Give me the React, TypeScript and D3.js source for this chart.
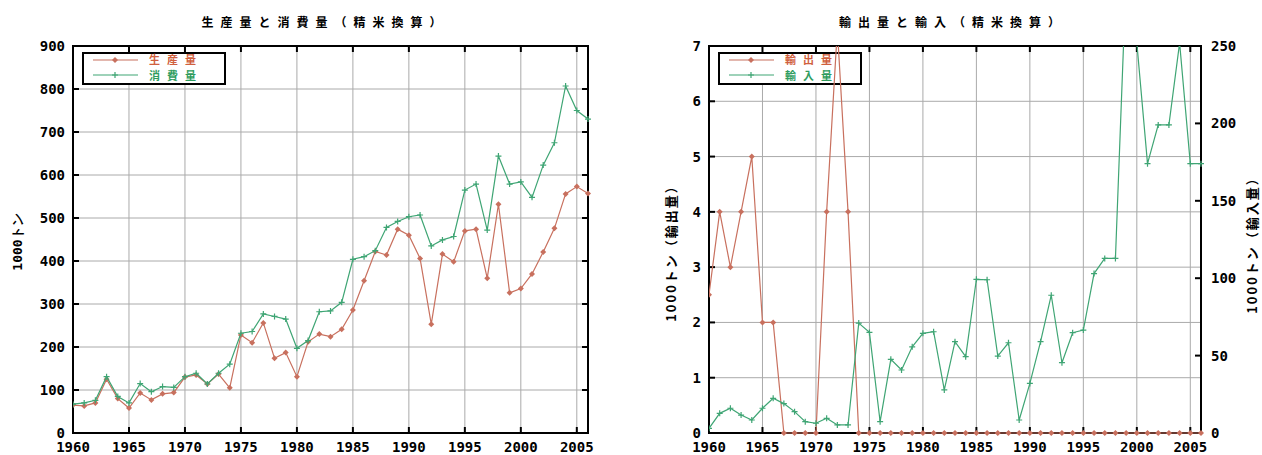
import * as d3 from 'd3'

const years = [
    1960, 1961, 1962, 1963, 1964, 1965, 1966, 1967, 1968, 1969, 1970, 1971, 1972, 1973, 1974, 1975,
    1976, 1977, 1978, 1979, 1980, 1981, 1982, 1983, 1984, 1985, 1986, 1987, 1988, 1989, 1990, 1991,
    1992, 1993, 1994, 1995, 1996, 1997, 1998, 1999, 2000, 2001, 2002, 2003, 2004, 2005, 2006,
]

// 生産量
const production = [
    65, 63, 70, 125, 80, 58, 93, 77, 91, 94, 130, 135, 114, 137, 105, 228, 210, 256, 174, 187, 131, 212,
    230, 224, 241, 286, 354, 422, 414, 474, 460, 406, 253, 416, 398, 470, 474, 360, 532, 326, 336, 370,
    421, 476, 556, 573, 557,
]
// 消費量
const consumption = [
    67, 70, 76, 131, 85, 70, 115, 96, 108, 106, 131, 139, 114, 139, 160, 232, 236, 277, 271, 265, 197, 215,
    282, 284, 304, 404, 410, 424, 478, 492, 503, 507, 435, 449, 457, 565, 579, 472, 644, 579, 584, 548,
    623, 675, 807, 750, 730,
]
// 輸出量 (left axis)
const exports = [
    2.5, 4, 3, 4, 5, 2, 2, 0, 0, 0, 0, 4, 7.3, 4, 0, 0, 0, 0, 0, 0, 0, 0, 0, 0, 0, 0, 0, 0, 0, 0, 0, 0, 0,
    0, 0, 0, 0, 0, 0, 0, 0, 0, 0, 0, 0, 0, 0,
]
// 輸入量 (right axis)
const imports = [
    3, 12.7, 16, 11.6, 8.4, 16, 22.4, 19, 13.8, 7.3, 6.3, 9.5, 5.2, 5.2, 71, 65, 7.3, 47.6, 40.7, 55.7,
    64.4, 65.4, 27.8, 59, 49.3, 99.3, 99, 49.7, 58.3, 8.4, 32, 59, 89, 45.4, 64.8, 66.5, 103, 112.8,
    112.8, 295, 252, 174, 199, 199, 252, 174, 174,
]

const yearTicks = [1960, 1965, 1970, 1975, 1980, 1985, 1990, 1995, 2000, 2005]
const leftTicks = [0, 100, 200, 300, 400, 500, 600, 700, 800, 900]
const exportTicks = [0, 1, 2, 3, 4, 5, 6, 7]
const importTicks = [0, 50, 100, 150, 200, 250]

const RED = '#c8705e'
const GREEN = '#3fa574'
const mono = '"DejaVu Sans Mono", monospace'
const cjk = '"Noto Sans CJK JP", sans-serif'

function Diamond({ x, y, c }) {
    return <path d={`M${x},${y - 3}L${x + 3},${y}L${x},${y + 3}L${x - 3},${y}Z`} fill={c} />
}
function Plus({ x, y, c }) {
    return <path d={`M${x - 3},${y}H${x + 3}M${x},${y - 3}V${y + 3}`} stroke={c} strokeWidth={1.2} />
}

function Frame({ x, y, yTicks, y2, y2Ticks, x0, x1, y0, y1 }) {
    return (
        <g>
            {yearTicks.map((t) => (
                <g key={'x' + t}>
                    <line x1={x(t)} x2={x(t)} y1={y0} y2={y1} stroke="#aaa" strokeWidth={1} />
                    <line x1={x(t)} x2={x(t)} y1={y1} y2={y1 - 6} stroke="#000" strokeWidth={2} />
                    <line x1={x(t)} x2={x(t)} y1={y0} y2={y0 + 6} stroke="#000" strokeWidth={2} />
                    <text x={x(t)} y={y1 + 19} textAnchor="middle" fontFamily={mono} fontWeight="bold" fontSize={14}>
                        {t}
                    </text>
                </g>
            ))}
            {yTicks.map((t) => (
                <g key={'y' + t}>
                    <line x1={x0} x2={x1} y1={y(t)} y2={y(t)} stroke="#aaa" strokeWidth={1} />
                    <line x1={x0} x2={x0 + 6} y1={y(t)} y2={y(t)} stroke="#000" strokeWidth={2} />
                    {!y2 && <line x1={x1} x2={x1 - 6} y1={y(t)} y2={y(t)} stroke="#000" strokeWidth={2} />}
                    <text x={x0 - 8} y={y(t) + 5} textAnchor="end" fontFamily={mono} fontWeight="bold" fontSize={14}>
                        {t}
                    </text>
                </g>
            ))}
            {y2 &&
                y2Ticks.map((t) => (
                    <g key={'r' + t}>
                        <line x1={x1} x2={x1 - 6} y1={y2(t)} y2={y2(t)} stroke="#000" strokeWidth={2} />
                        <text x={x1 + 10} y={y2(t) + 5} fontFamily={mono} fontWeight="bold" fontSize={14}>
                            {t}
                        </text>
                    </g>
                ))}
            <rect x={x0} y={y0} width={x1 - x0} height={y1 - y0} fill="none" stroke="#000" strokeWidth={2} />
        </g>
    )
}

function Legend({ x, y, labels }) {
    return (
        <g>
            <rect x={x} y={y} width={142} height={31} fill="#fff" stroke="#000" strokeWidth={2} />
            <line x1={x + 10} x2={x + 55} y1={y + 7} y2={y + 7} stroke={RED} strokeWidth={1.2} />
            <Diamond x={x + 32} y={y + 7} c={RED} />
            <text x={x + 66} y={y + 11} fill="#d0603e" fontFamily={cjk} fontWeight="bold" fontSize={11} letterSpacing={7}>
                {labels[0]}
            </text>
            <line x1={x + 10} x2={x + 55} y1={y + 22} y2={y + 22} stroke={GREEN} strokeWidth={1.2} />
            <Plus x={x + 32} y={y + 22} c={GREEN} />
            <text x={x + 66} y={y + 27} fill="#2f9c5e" fontFamily={cjk} fontWeight="bold" fontSize={11} letterSpacing={7}>
                {labels[1]}
            </text>
        </g>
    )
}

function Series({ x, y, values, color, marker, clip }) {
    const line = d3
        .line<number>()
        .x((d, i) => x(years[i]))
        .y((d) => y(d))
    return (
        <g clipPath={`url(#${clip})`}>
            <path d={line(values) || ''} fill="none" stroke={color} strokeWidth={1.2} />
            {values.map((v, i) =>
                marker === 'd' ? (
                    <Diamond key={i} x={x(years[i])} y={y(v)} c={color} />
                ) : (
                    <Plus key={i} x={x(years[i])} y={y(v)} c={color} />
                )
            )}
        </g>
    )
}

function App() {
    // left panel
    const lx0 = 73, lx1 = 588, top = 46, bottom = 433
    const xL = d3.scaleLinear().domain([1960, 2006]).range([lx0, lx1])
    const yL = d3.scaleLinear().domain([0, 900]).range([bottom, top])

    // right panel
    const rx0 = 709, rx1 = 1201
    const xR = d3.scaleLinear().domain([1960, 2006]).range([rx0, rx1])
    const yR = d3.scaleLinear().domain([0, 7]).range([bottom, top])
    const yR2 = d3.scaleLinear().domain([0, 250]).range([bottom, top])

    return (
        <svg width={1262} height={455} style={{ position: 'absolute', left: 0, top: 0, background: '#fff' }}>
            <defs>
                <clipPath id="clipL">
                    <rect x={lx0} y={top} width={lx1 - lx0 + 4} height={bottom - top} />
                </clipPath>
                <clipPath id="clipR">
                    <rect x={rx0} y={top} width={rx1 - rx0 + 4} height={bottom - top + 4} />
                </clipPath>
            </defs>
            <rect width={1262} height={455} fill="#fff" />

            <text x={325} y={27} textAnchor="middle" fontFamily={cjk} fontWeight="bold" fontSize={12} letterSpacing={7}>
                生産量と消費量（精米換算）
            </text>
            <text
                transform="translate(22,242) rotate(-90)"
                textAnchor="middle"
                fontFamily={mono}
                fontWeight="bold"
                fontSize={13}
            >
                1000トン
            </text>
            <Frame x={xL} y={yL} yTicks={leftTicks} x0={lx0} x1={lx1} y0={top} y1={bottom} />
            <Legend x={83} y={53} labels={['生産量', '消費量']} />
            <Series x={xL} y={yL} values={production} color={RED} marker="d" clip="clipL" />
            <Series x={xL} y={yL} values={consumption} color={GREEN} marker="p" clip="clipL" />

            <text x={953} y={27} textAnchor="middle" fontFamily={cjk} fontWeight="bold" fontSize={12} letterSpacing={7}>
                輸出量と輸入（精米換算）
            </text>
            <text
                transform="translate(676,250) rotate(-90)"
                textAnchor="middle"
                fontFamily={cjk}
                fontWeight="bold"
                fontSize={13}
                letterSpacing={2}
            >
                1000トン（輸出量）
            </text>
            <text
                transform="translate(1257,242) rotate(-90)"
                textAnchor="middle"
                fontFamily={cjk}
                fontWeight="bold"
                fontSize={13}
                letterSpacing={2}
            >
                1000トン（輸入量）
            </text>
            <Frame
                x={xR}
                y={yR}
                yTicks={exportTicks}
                y2={yR2}
                y2Ticks={importTicks}
                x0={rx0}
                x1={rx1}
                y0={top}
                y1={bottom}
            />
            <Legend x={719} y={53} labels={['輸出量', '輸入量']} />
            <Series x={xR} y={yR} values={exports} color={RED} marker="d" clip="clipR" />
            <Series x={xR} y={yR2} values={imports} color={GREEN} marker="p" clip="clipR" />
        </svg>
    )
}

export default App
